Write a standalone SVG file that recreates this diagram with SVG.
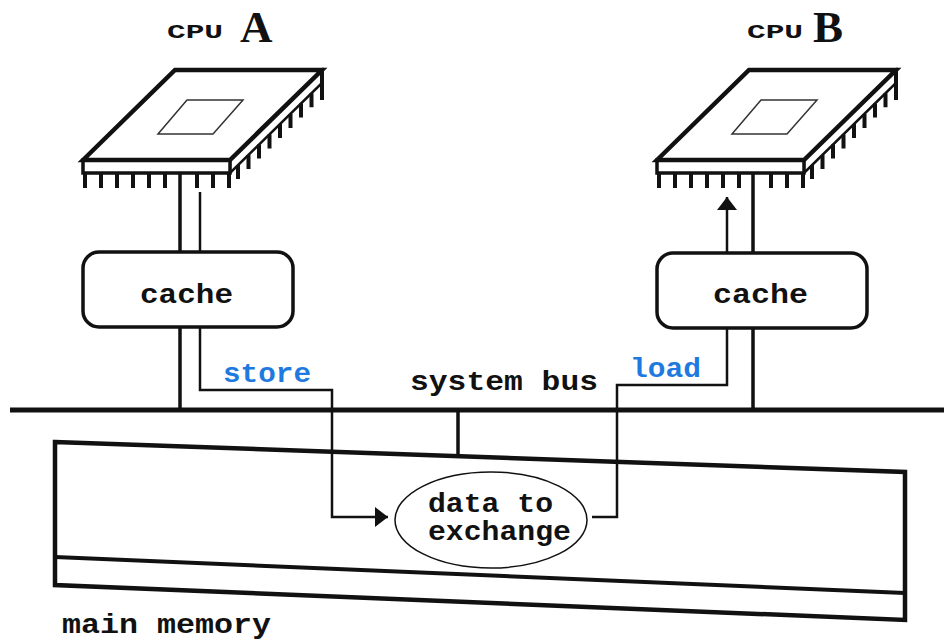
<svg xmlns="http://www.w3.org/2000/svg" width="944" height="641" viewBox="0 0 944 641">
  <style>
    .lbl { font-family: "Liberation Mono", "Courier New", monospace; font-weight: bold; font-size: 27px; fill: #111; }
    .op { fill: #1f7ae0; }
    .cpu { font-family: "Liberation Mono", "Courier New", monospace; font-weight: bold; font-size: 21px; fill: #111; }
    .big { font-family: "Liberation Serif", "Times New Roman", serif; font-weight: bold; font-size: 45px; fill: #111; }
    .face { fill: #fff; stroke: #111; stroke-linejoin: miter; }
    .pin { fill: none; stroke: #111; stroke-width: 4; }
    .box { fill: #fff; stroke: #111; stroke-width: 3.5; }
    .wire { fill: none; stroke: #111; stroke-width: 3.5; }
    .flow { fill: none; stroke: #111; stroke-width: 2.5; }
  </style>
  <defs>
    <marker id="arrow" markerUnits="userSpaceOnUse" markerWidth="16" markerHeight="22" refX="13" refY="11" orient="auto">
      <path d="M0,1 L13,11 L0,21 Z" fill="#111"/>
    </marker>
    <!-- chip package drawn in the coordinates of the left processor -->
    <g id="chip">
      <polygon class="face" stroke-width="2.5" points="230,160 322,70 322,83 230,173"/>
      <rect class="face" stroke-width="3.5" x="83" y="160" width="147" height="13"/>
      <polygon class="face" stroke-width="4.5" points="83,160 175,70 322,70 230,160"/>
      <polygon fill="none" stroke="#333" stroke-width="1.5" points="158,134 187,100 243,100 213,134"/>
      <path class="pin" d="M85 173v15 M101 173v15 M117 173v15 M133 173v15 M149 173v15 M165 173v15 M197 173v15 M213 173v15 M229 173v15"/>
      <path class="pin" d="M238 165v14 M248.5 155v14 M259 144.6v14 M269.5 134.4v14 M280 124v14 M290.5 114v14 M301 103.5v14 M311.5 93.3v14 M322 70v30"/>
    </g>
  </defs>

  <!-- processors -->
  <g id="cpu-a">
    <use href="#chip"/>
    <text class="cpu" x="167" y="38" textLength="56" lengthAdjust="spacingAndGlyphs">CPU</text>
    <text class="big" x="240" y="42">A</text>
  </g>
  <g id="cpu-b">
    <use href="#chip" transform="translate(574,0)"/>
    <text class="cpu" x="747" y="38" textLength="56" lengthAdjust="spacingAndGlyphs">CPU</text>
    <text class="big" x="813" y="42">B</text>
  </g>

  <!-- caches -->
  <g id="cache-a">
    <rect class="box" x="83" y="252" width="210" height="75" rx="16"/>
    <text class="lbl" x="140" y="303" textLength="93" lengthAdjust="spacingAndGlyphs">cache</text>
  </g>
  <g id="cache-b">
    <rect class="box" x="657" y="253" width="210" height="75" rx="16"/>
    <text class="lbl" x="713" y="303" textLength="95" lengthAdjust="spacingAndGlyphs">cache</text>
  </g>

  <!-- bus -->
  <g id="system-bus">
    <line x1="10" y1="410" x2="944" y2="410" stroke="#111" stroke-width="5"/>
    <text class="lbl" x="410" y="390" textLength="188" lengthAdjust="spacingAndGlyphs">system bus</text>
  </g>

  <!-- memory bank -->
  <g id="main-memory">
    <polygon fill="#fff" stroke="#111" stroke-width="4.5" stroke-linejoin="miter" points="55,442 905,472 905,620 55,585"/>
    <line x1="55" y1="557" x2="905" y2="593" stroke="#111" stroke-width="4"/>
    <text class="lbl" x="62" y="633" textLength="209" lengthAdjust="spacingAndGlyphs">main memory</text>
  </g>

  <g id="data">
    <ellipse cx="491" cy="520" rx="96" ry="48" fill="#fff" stroke="#111" stroke-width="1.5"/>
    <text class="lbl" x="428" y="512" textLength="125" lengthAdjust="spacingAndGlyphs">data to</text>
    <text class="lbl" x="428" y="540" textLength="143" lengthAdjust="spacingAndGlyphs">exchange</text>
  </g>

  <!-- connectors -->
  <g id="connectors">
    <path class="wire" d="M180 173V252 M180 327V410"/>
    <path class="wire" d="M753 173V253 M753 328V410"/>
    <path class="wire" d="M458 410V456"/>
    <path class="flow" d="M200 192V252"/>
    <path class="flow" d="M200 327V390H332V517H388" marker-end="url(#arrow)"/>
    <path class="flow" d="M592 517H617V385H727V328"/>
    <path class="flow" d="M727 253V197" marker-end="url(#arrow)"/>
    <text class="lbl op" x="223" y="382" textLength="88" lengthAdjust="spacingAndGlyphs">store</text>
    <text class="lbl op" x="630" y="377" textLength="71" lengthAdjust="spacingAndGlyphs">load</text>
  </g>
</svg>
